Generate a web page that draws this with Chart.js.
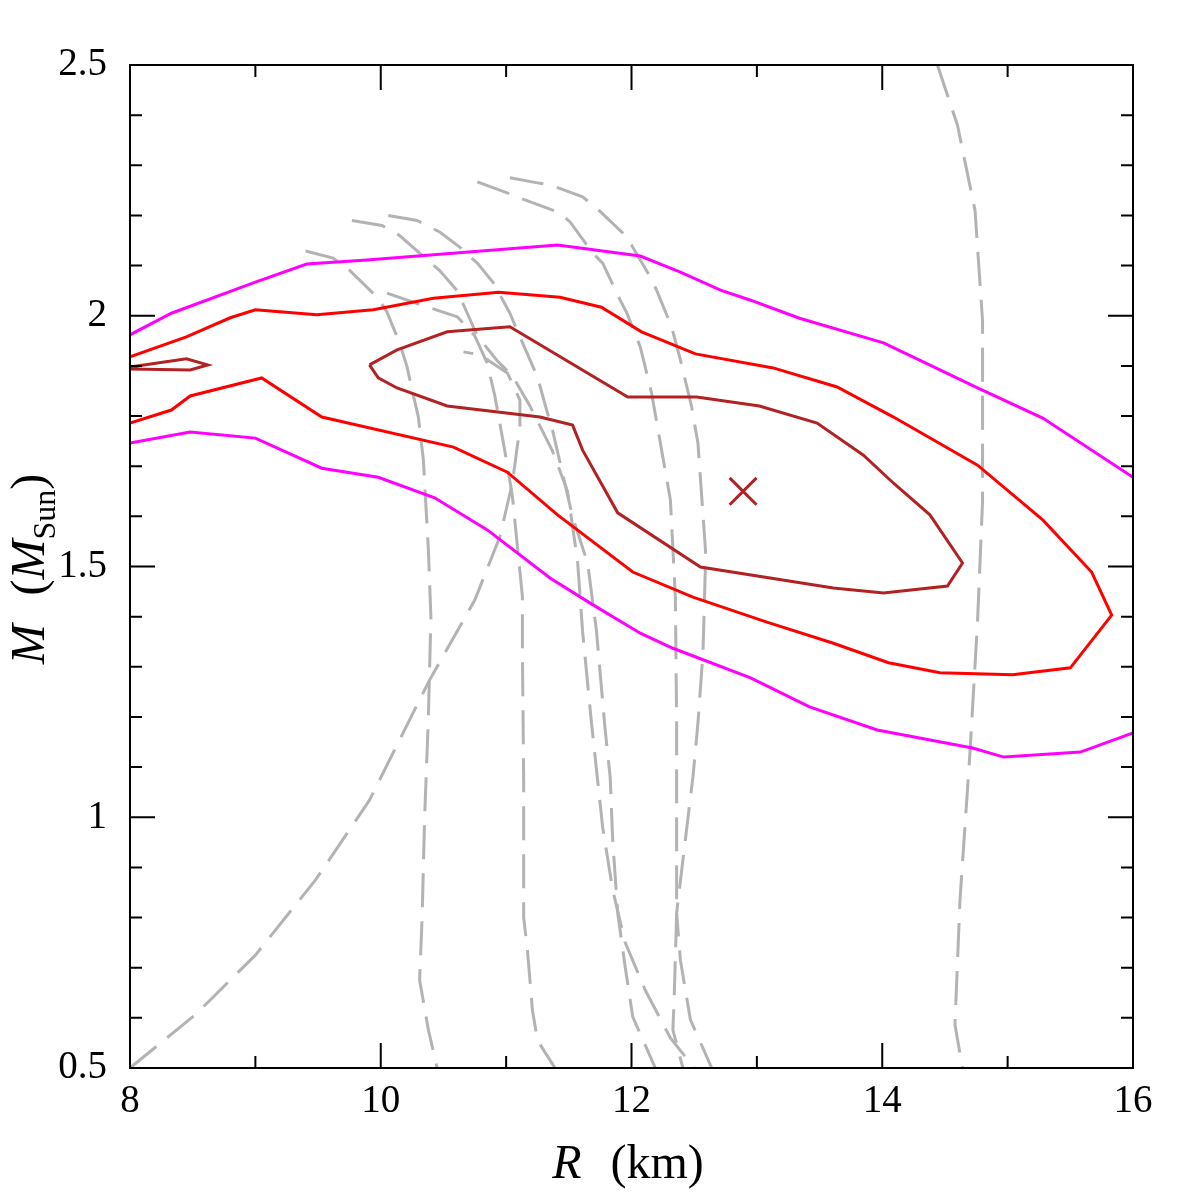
<!DOCTYPE html>
<html>
<head>
<meta charset="utf-8">
<title>Mass-radius contours</title>
<script src="https://cdn.jsdelivr.net/npm/chart.js@4.4.1/dist/chart.umd.min.js"></script>
<style>
    html, body { margin: 0; padding: 0; background: #fff; }
    #wrap { width: 1196px; height: 1196px; }
</style>
</head>
<body>
<div id="wrap"><canvas id="mrChart" width="1196" height="1196"></canvas></div>
<script>
// Axis ranges and tick values
const xRange = [8, 16];
const yRange = [0.5, 2.5];
const xMajorTicks = [8, 10, 12, 14, 16];
const xMinorTicks = [9, 11, 13, 15];
const yMajorTicks = [0.5, 1, 1.5, 2, 2.5];
const yMinorTicks = [0.6, 0.7, 0.8, 0.9, 1.1, 1.2, 1.3, 1.4, 1.6, 1.7, 1.8, 1.9, 2.1, 2.2, 2.3, 2.4];

// Best fit point [R, M]
const bestFit = [[12.89, 1.65]];

// Confidence contours, [R (km), M (Msun)] pairs
const contourInner = [
    [9.91, 1.902], [10.13, 1.932], [10.53, 1.968], [11.03, 1.978], [11.97, 1.838],
    [12.52, 1.838], [13.02, 1.820], [13.48, 1.786], [13.85, 1.722], [14.09, 1.666],
    [14.38, 1.603], [14.64, 1.507], [14.52, 1.461], [14.01, 1.447], [13.61, 1.457],
    [12.55, 1.499], [11.89, 1.607], [11.61, 1.732], [11.53, 1.782], [11.27, 1.798],
    [10.53, 1.820], [10.13, 1.856], [9.98, 1.876], [9.91, 1.902]
];
const contourInnerIsland = [
    [8.0, 1.898], [8.45, 1.914], [8.62, 1.902], [8.48, 1.892], [8.0, 1.894]
];
const contourMiddle = [
    [8.0, 1.918], [8.45, 1.958], [8.80, 1.996], [9.0, 2.012], [9.49, 2.002],
    [9.94, 2.012], [10.42, 2.035], [10.94, 2.047], [11.43, 2.037], [11.76, 2.017],
    [12.08, 1.968], [12.51, 1.924], [13.13, 1.896], [13.64, 1.858], [14.09, 1.798],
    [14.76, 1.702], [15.28, 1.593], [15.67, 1.489], [15.83, 1.403], [15.50, 1.298],
    [15.04, 1.284], [14.46, 1.288], [14.05, 1.308], [13.61, 1.347], [13.08, 1.389],
    [12.49, 1.439], [12.01, 1.489], [11.41, 1.603], [11.01, 1.688], [10.58, 1.738],
    [9.53, 1.798], [9.05, 1.876], [8.48, 1.840], [8.33, 1.812], [8.0, 1.786]
];
const contourOuterTop = [
    [8.0, 1.962], [8.33, 2.005], [9.0, 2.067], [9.41, 2.103], [9.89, 2.111],
    [11.41, 2.141], [12.07, 2.119], [12.39, 2.087], [12.71, 2.051], [12.95, 2.031],
    [13.34, 1.995], [14.01, 1.946], [14.76, 1.856], [15.28, 1.796], [16.0, 1.678]
];
const contourOuterBottom = [
    [8.0, 1.746], [8.48, 1.768], [9.0, 1.756], [9.53, 1.696], [9.98, 1.678],
    [10.43, 1.637], [10.85, 1.573], [11.35, 1.477], [11.67, 1.427], [12.07, 1.367],
    [12.33, 1.337], [12.95, 1.278], [13.42, 1.220], [13.96, 1.174], [14.72, 1.138],
    [14.97, 1.120], [15.58, 1.130], [16.0, 1.168]
];

// Equation-of-state mass-radius curves (grey dashed)
const eosA = [
    [8.0, 0.5], [8.52, 0.606], [9.0, 0.725], [9.48, 0.875], [9.91, 1.034],
    [10.39, 1.274], [10.75, 1.433], [10.95, 1.559], [11.05, 1.667], [11.11, 1.778],
    [11.11, 1.832], [11.01, 1.886], [10.79, 1.922], [10.66, 1.928]
];
const eosB = [
    [9.40, 2.129], [9.62, 2.115], [9.75, 2.091], [9.98, 2.035], [10.05, 2.007],
    [10.15, 1.946], [10.21, 1.898], [10.25, 1.852], [10.30, 1.798], [10.34, 1.712],
    [10.38, 1.533], [10.40, 1.399], [10.38, 1.200], [10.35, 1.000], [10.33, 0.801],
    [10.31, 0.675], [10.38, 0.576], [10.45, 0.5]
];
const eosC = [
    [10.05, 2.045], [10.34, 2.020], [10.61, 1.998], [10.75, 1.960], [10.85, 1.905],
    [10.91, 1.840], [10.99, 1.730], [11.05, 1.640], [11.09, 1.540], [11.13, 1.440],
    [11.13, 1.330], [11.14, 1.070], [11.14, 0.800], [11.17, 0.735], [11.21, 0.615],
    [11.25, 0.555], [11.39, 0.5]
];
const eosD = [
    [9.77, 2.19], [10.01, 2.18], [10.15, 2.16], [10.47, 2.09], [10.61, 2.05],
    [10.69, 2.005], [10.77, 1.96], [10.93, 1.91], [11.05, 1.88], [11.19, 1.82],
    [11.37, 1.73], [11.49, 1.65], [11.57, 1.51], [11.61, 1.37], [11.68, 1.19],
    [11.77, 0.98], [11.85, 0.855], [11.95, 0.75], [12.11, 0.655], [12.31, 0.56],
    [12.50, 0.5]
];
const eosE = [
    [10.06, 2.20], [10.29, 2.19], [10.47, 2.167], [10.63, 2.137], [10.77, 2.105],
    [10.90, 2.065], [11.03, 2.005], [11.11, 1.958], [11.25, 1.878], [11.33, 1.806],
    [11.37, 1.772], [11.53, 1.599], [11.65, 1.507], [11.72, 1.373], [11.79, 1.174],
    [11.83, 1.080], [11.85, 0.955], [11.89, 0.809], [11.95, 0.701], [12.01, 0.602],
    [12.19, 0.5]
];
const eosF = [
    [10.77, 2.267], [11.05, 2.241], [11.15, 2.231], [11.43, 2.205], [11.51, 2.187],
    [11.69, 2.125], [11.77, 2.105], [11.91, 2.031], [11.96, 2.007], [12.07, 1.938],
    [12.16, 1.846], [12.31, 1.633], [12.35, 1.439], [12.36, 1.188], [12.36, 0.809],
    [12.34, 0.636], [12.33, 0.576], [12.41, 0.5]
];
const eosG = [
    [11.03, 2.275], [11.25, 2.265], [11.35, 2.261], [11.61, 2.237], [11.72, 2.215],
    [11.93, 2.165], [12.00, 2.141], [12.15, 2.077], [12.20, 2.051], [12.32, 1.978],
    [12.39, 1.912], [12.48, 1.818], [12.53, 1.746], [12.59, 1.533], [12.59, 1.507],
    [12.57, 1.327], [12.53, 1.188], [12.49, 1.080], [12.41, 0.915], [12.36, 0.809],
    [12.39, 0.715], [12.47, 0.596], [12.64, 0.5]
];
const eosH = [
    [14.44, 2.5], [14.60, 2.38], [14.74, 2.21], [14.80, 1.99], [14.80, 1.63],
    [14.76, 1.39], [14.70, 1.13], [14.62, 0.835], [14.58, 0.586], [14.64, 0.5]
];

const SERIF = "'Liberation Serif', 'DejaVu Serif', serif";

function toPoints(pairs) {
    return pairs.map(p => ({ x: p[0], y: p[1] }));
}

function contourSet(pairs, color) {
    return {
        data: toPoints(pairs),
        showLine: true,
        borderColor: color,
        borderWidth: 3,
        pointRadius: 0,
        fill: false,
        tension: 0
    };
}

function eosSet(pairs) {
    return {
        data: toPoints(pairs),
        showLine: true,
        borderColor: '#b3b3b3',
        borderWidth: 3,
        borderDash: [34, 14],
        pointRadius: 0,
        fill: false,
        tension: 0
    };
}

// Frame with inward ticks on all four sides, plus the axis titles
const framePlugin = {
    id: 'frame',
    afterDatasetsDraw(chart) {
        const ctx = chart.ctx;
        const area = chart.chartArea;
        const xs = chart.scales.x;
        const ys = chart.scales.y;
        ctx.save();
        ctx.strokeStyle = '#000';
        ctx.lineWidth = 2;
        ctx.strokeRect(area.left, area.top, area.right - area.left, area.bottom - area.top);

        function xTick(v, len) {
            const px = xs.getPixelForValue(v);
            ctx.beginPath();
            ctx.moveTo(px, area.bottom); ctx.lineTo(px, area.bottom - len);
            ctx.moveTo(px, area.top); ctx.lineTo(px, area.top + len);
            ctx.stroke();
        }
        function yTick(v, len) {
            const py = ys.getPixelForValue(v);
            ctx.beginPath();
            ctx.moveTo(area.left, py); ctx.lineTo(area.left + len, py);
            ctx.moveTo(area.right, py); ctx.lineTo(area.right - len, py);
            ctx.stroke();
        }
        xMajorTicks.forEach(v => xTick(v, 25));
        xMinorTicks.forEach(v => xTick(v, 12));
        yMajorTicks.forEach(v => yTick(v, 25));
        yMinorTicks.forEach(v => yTick(v, 12));
        ctx.restore();
    },
    afterDraw(chart) {
        const ctx = chart.ctx;
        ctx.save();
        ctx.fillStyle = '#000';
        ctx.textBaseline = 'alphabetic';
        ctx.textAlign = 'left';

        // x title: R (km)
        const big = 48;
        const gap = 0.6 * big;
        ctx.font = `italic ${big}px ${SERIF}`;
        const wR = ctx.measureText('R').width;
        ctx.font = `${big}px ${SERIF}`;
        const wKm = ctx.measureText('(km)').width;
        const x0 = 628 - (wR + gap + wKm) / 2;
        ctx.font = `italic ${big}px ${SERIF}`;
        ctx.fillText('R', x0, 1178);
        ctx.font = `${big}px ${SERIF}`;
        ctx.fillText('(km)', x0 + wR + gap, 1178);

        // y title: M (M_Sun), rotated
        ctx.translate(44, 569);
        ctx.rotate(-Math.PI / 2);
        const small = 32;
        ctx.font = `italic ${big}px ${SERIF}`;
        const wM = ctx.measureText('M').width;
        ctx.font = `${big}px ${SERIF}`;
        const wOpen = ctx.measureText('(').width;
        const wClose = ctx.measureText(')').width;
        ctx.font = `${small}px ${SERIF}`;
        const wSun = ctx.measureText('Sun').width;
        const total = wM + gap + wOpen + wM + wSun + wClose;
        let cx = -total / 2;
        ctx.font = `italic ${big}px ${SERIF}`;
        ctx.fillText('M', cx, 0); cx += wM + gap;
        ctx.font = `${big}px ${SERIF}`;
        ctx.fillText('(', cx, 0); cx += wOpen;
        ctx.font = `italic ${big}px ${SERIF}`;
        ctx.fillText('M', cx, 0); cx += wM;
        ctx.font = `${small}px ${SERIF}`;
        ctx.fillText('Sun', cx, 11); cx += wSun;
        ctx.font = `${big}px ${SERIF}`;
        ctx.fillText(')', cx, 0);
        ctx.restore();
    }
};

const ctx = document.getElementById('mrChart').getContext('2d');

const mrChart = new Chart(ctx, {
    type: 'scatter',
    data: {
        datasets: [
            {
                data: toPoints(bestFit),
                showLine: false,
                pointStyle: 'crossRot',
                pointRadius: 19,
                borderColor: '#b22222',
                borderWidth: 3
            },
            contourSet(contourInner, '#b22222'),
            contourSet(contourInnerIsland, '#b22222'),
            contourSet(contourMiddle, '#ff0000'),
            contourSet(contourOuterTop, '#ff00ff'),
            contourSet(contourOuterBottom, '#ff00ff'),
            eosSet(eosA),
            eosSet(eosB),
            eosSet(eosC),
            eosSet(eosD),
            eosSet(eosE),
            eosSet(eosF),
            eosSet(eosG),
            eosSet(eosH)
        ]
    },
    options: {
        responsive: false,
        animation: false,
        layout: {
            padding: { left: 0, right: 63, top: 65, bottom: 0 }
        },
        plugins: {
            legend: { display: false },
            tooltip: { enabled: false },
            title: { display: false }
        },
        scales: {
            x: {
                type: 'linear',
                min: xRange[0],
                max: xRange[1],
                grid: { display: false, drawTicks: false },
                border: { display: false },
                ticks: {
                    stepSize: 2,
                    autoSkip: false,
                    maxRotation: 0,
                    padding: 10,
                    color: '#000',
                    font: { family: SERIF, size: 39 },
                    callback: value => String(value)
                },
                afterFit(scale) { scale.height = 128; }
            },
            y: {
                type: 'linear',
                min: yRange[0],
                max: yRange[1],
                grid: { display: false, drawTicks: false },
                border: { display: false },
                ticks: {
                    stepSize: 0.5,
                    autoSkip: false,
                    padding: 23,
                    color: '#000',
                    font: { family: SERIF, size: 39 },
                    callback: value => String(value)
                },
                afterFit(scale) { scale.width = 130; }
            }
        }
    },
    plugins: [framePlugin]
});
</script>
</body>
</html>
